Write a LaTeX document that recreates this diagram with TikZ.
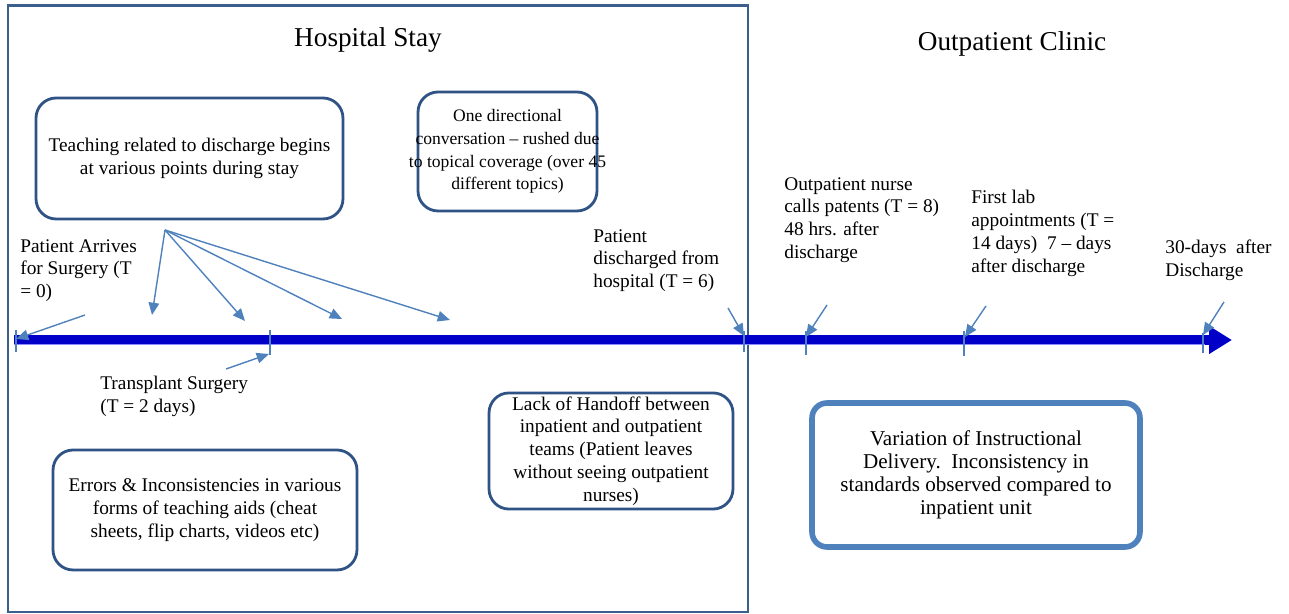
\documentclass[tikz,border=0pt]{standalone}
\usepackage{fontspec}
\setmainfont{Liberation Serif}
\usetikzlibrary{arrows.meta}
\usetikzlibrary{positioning}
\definecolor{framecol}{HTML}{3B5F8D}
\definecolor{notecol}{HTML}{2F5385}
\definecolor{varcol}{HTML}{4F81BD}
\definecolor{timecol}{HTML}{0000C8}
\definecolor{pointcol}{HTML}{4F81BD}
\tikzset{
  note/.style={draw=notecol, line width=1.6pt, rounded corners=0.4cm, align=center,
    font=\fontsize{11}{13}\selectfont, inner sep=2pt},
  stamp/.style={anchor=north west, align=left, inner sep=0pt,
    font=\fontsize{11}{13}\selectfont},
  pointer/.style={pointcol, line width=0.8pt, -{Triangle[length=7pt,width=6pt]}},
  tick/.style={pointcol, line width=0.6pt}
}

\begin{document}
\begin{tikzpicture}[x=0.02cm, y=-0.02cm]
  \useasboundingbox (0,0) rectangle (1289,614);
  % draw hospital frame
  \draw[framecol, line width=1.7pt] (8,6) rectangle (748,612);
  \node (hosp) at (368,40) {\fontsize{15.5}{18}\selectfont Hospital Stay};
  \node (clinic) at (1012,44) {\fontsize{15.5}{18}\selectfont Outpatient Clinic};

  % add time line
  \coordinate (start) at (14,340);
  \coordinate (stop) at (1232,340);
  \draw[timecol, line width=6pt, -{Triangle[length=13pt,width=15pt]}] (start) -- (stop);
  \draw[blue!45, line width=0.5pt] (14,344) -- (1205,344);

  % draw ticks
  \foreach \t/\a/\b in {16/330/352, 270/330/355, 744/331/352, 806/331/355, 964/331/356, 1203/333/353}
    \draw[tick] (\t,\a) -- (\t,\b);

  % add boxes
  \node[note, minimum width=6.14cm, minimum height=2.42cm] (teach) at (189.5,158.5)
    {Teaching related to discharge begins\\at various points during stay};
  \node[note, inner xsep=-6pt, font=\fontsize{10}{13}\selectfont,
    minimum width=3.58cm, minimum height=2.38cm] (talk) at (507.5,151.5)
    {One directional\\conversation -- rushed due\\to topical coverage (over 45\\different topics)};
  \node[note, minimum width=6.08cm, minimum height=2.40cm] (errors) at (205,510)
    {Errors \& Inconsistencies in various\\forms of teaching aids (cheat\\sheets, flip charts, videos etc)};
  \node[note, minimum width=4.88cm, minimum height=2.32cm] (handoff) at (611,451)
    {Lack of Handoff between\\inpatient and outpatient\\teams (Patient leaves\\without seeing outpatient\\nurses)};
  \node[note, draw=varcol, line width=3.2pt, rounded corners=0.3cm, font=\fontsize{12}{13}\selectfont,
    minimum width=6.56cm, minimum height=2.88cm] (vary) at (976,475)
    {Variation of Instructional\\Delivery.\ \ Inconsistency in\\standards observed compared to\\inpatient unit};

  % add labels
  \node[stamp] (arrive) at (20,239) {Patient Arrives\\for Surgery (T\\= 0)};
  \node[stamp] (surgery) at (100,376) {Transplant Surgery\\(T = 2 days)};
  \node[stamp] (leave) at (593,229) {Patient\\discharged from\\hospital (T = 6)};
  \node[stamp] (nurse) at (784,177) {Outpatient nurse\\calls patents (T = 8)\\48 hrs. after\\discharge};
  \node[stamp] (lab) at (971,190) {First lab\\appointments (T =\\14 days)\ \ 7 -- days\\after discharge};
  \node[stamp] (month) at (1165,240) {30-days\ \ after\\Discharge};

  % draw pointers
  \coordinate (fan) at (165,230);
  \foreach \px/\py in {152/315, 245/321, 342/319, 450/320}
    \draw[pointer] (fan) -- (\px,\py);
  \coordinate (a0) at (85,315);   \coordinate (b0) at (16,339);
  \coordinate (a1) at (226,369);  \coordinate (b1) at (269,354);
  \coordinate (a2) at (728,308);  \coordinate (b2) at (744,336);
  \coordinate (a3) at (827,305);  \coordinate (b3) at (806,337);
  \coordinate (a4) at (986,306);  \coordinate (b4) at (965,337);
  \coordinate (a5) at (1224,302); \coordinate (b5) at (1203,335);
  \foreach \i in {0,...,5}
    \draw[pointer] (a\i) -- (b\i);
\end{tikzpicture}
\end{document}
